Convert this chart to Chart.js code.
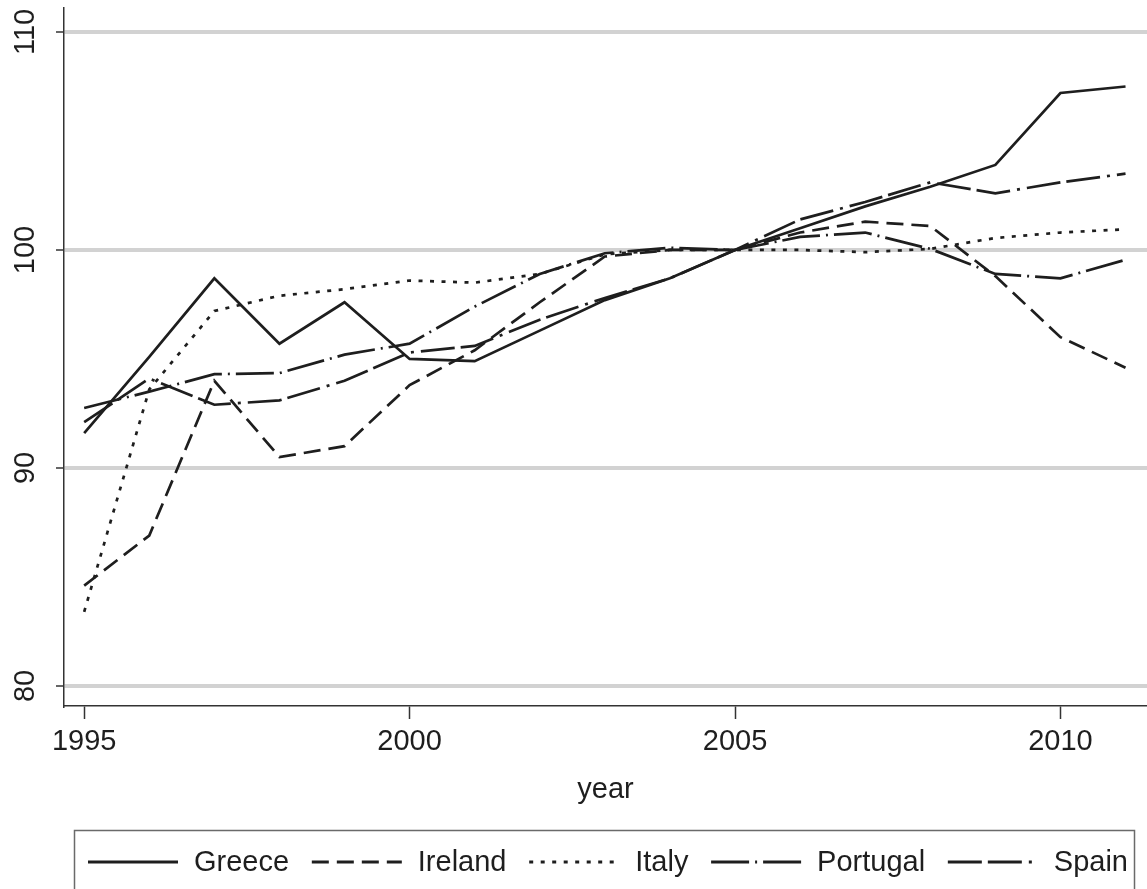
<!DOCTYPE html>
<html>
<head>
<meta charset="utf-8">
<script src="https://cdn.jsdelivr.net/npm/chart.js@4.4.1/dist/chart.umd.min.js"></script>
<style>
  html, body { margin: 0; padding: 0; background: #fff; }
  #chart { display: block; }
</style>
</head>
<body>
<canvas id="chart" width="1147" height="889"></canvas>
<script>
// index values, 2005 = 100
const years = [1995, 1996, 1997, 1998, 1999, 2000, 2001, 2002, 2003, 2004, 2005, 2006, 2007, 2008, 2009, 2010, 2011];
const greece = [91.6, 95.1, 98.7, 95.7, 97.6, 95.0, 94.9, 96.3, 97.7, 98.7, 100, 101.0, 102.0, 102.9, 103.9, 107.2, 107.5];
const ireland = [84.6, 86.9, 94.0, 90.5, 91.0, 93.8, 95.4, 97.6, 99.7, 100.0, 100, 100.8, 101.3, 101.1, 98.8, 96.0, 94.6];
const italy = [83.4, 93.6, 97.2, 97.9, 98.2, 98.6, 98.5, 98.9, 99.8, 100.0, 100, 100.0, 99.9, 100.05, 100.55, 100.8, 100.95];
const portugal = [92.75, 93.5, 94.3, 94.35, 95.2, 95.7, 97.4, 98.9, 99.85, 100.1, 100, 100.6, 100.8, 100.05, 98.9, 98.7, 99.55];
const spain = [92.1, 94.1, 92.9, 93.1, 94.0, 95.3, 95.6, 96.8, 97.8, 98.7, 100, 101.4, 102.2, 103.1, 102.6, 103.1, 103.5];

const countries = ["Greece", "Ireland", "Italy", "Portugal", "Spain"];
const xTicks = [1995, 2000, 2005, 2010];
const yTicks = [80, 90, 100, 110];

const ink = "#1e1e1e";
const fontFamily = '"Liberation Sans", Arial, Helvetica, sans-serif';
const tickFont = { family: fontFamily, size: 29 };

const series = [greece, ireland, italy, portugal, spain];
const dashes = [[], [17, 8], [4, 7.5], [38, 6, 2, 6], [34, 6, 34, 7, 3, 7]];

const datasets = countries.map((name, i) => ({
  label: name,
  data: years.map((yr, j) => ({ x: yr, y: series[i][j] })),
  borderColor: ink,
  borderWidth: 2.7,
  borderDash: dashes[i],
  borderCapStyle: "butt",
  pointRadius: 0,
  tension: 0,
  fill: false
}));

// boxed legend row under the axis title
const boxLegend = {
  id: "boxLegend",
  afterDraw(chart) {
    const ctx = chart.ctx;
    const left = 88, right = 1128, y = 862, sample = 90, gap = 16;
    ctx.save();
    ctx.strokeStyle = "#6a6a6a";
    ctx.lineWidth = 1.5;
    ctx.setLineDash([]);
    ctx.strokeRect(74.5, 830.5, 1060, 90);

    ctx.font = "29px " + fontFamily;
    ctx.textBaseline = "middle";
    ctx.fillStyle = ink;
    const sets = chart.data.datasets;
    let used = 0;
    sets.forEach(ds => { used += sample + gap + ctx.measureText(ds.label).width; });
    const spread = (right - left - used) / (sets.length - 1);

    let x = left;
    sets.forEach(ds => {
      ctx.setLineDash(ds.borderDash);
      ctx.lineWidth = 3;
      ctx.strokeStyle = ds.borderColor;
      ctx.beginPath();
      ctx.moveTo(x, y);
      ctx.lineTo(x + sample, y);
      ctx.stroke();
      x += sample + gap;
      ctx.fillText(ds.label, x, y + 1);
      x += ctx.measureText(ds.label).width + spread;
    });
    ctx.restore();
  }
};

new Chart(document.getElementById("chart"), {
  type: "line",
  data: { datasets },
  options: {
    responsive: false,
    animation: false,
    devicePixelRatio: 1,
    layout: { padding: { top: 8, right: 0, bottom: 82, left: 0 } },
    plugins: {
      legend: { display: false },
      tooltip: { enabled: false }
    },
    scales: {
      x: {
        type: "linear",
        min: 1994.69,
        max: 2011.33,
        afterBuildTicks: s => { s.ticks = xTicks.map(v => ({ value: v })); },
        afterFit: s => { s.height = 101; s.paddingLeft = 0; s.paddingRight = 0; },
        grid: { drawOnChartArea: false, tickColor: "#333", tickWidth: 1.5, tickLength: 13 },
        border: { color: "#333", width: 1.5 },
        ticks: { font: tickFont, color: ink, padding: 6, maxRotation: 0, callback: v => String(v) },
        title: { display: true, text: "year", font: tickFont, color: ink, padding: 0 }
      },
      y: {
        min: 79.08,
        max: 111.1,
        afterBuildTicks: s => { s.ticks = yTicks.map(v => ({ value: v })); },
        afterFit: s => { s.width = 64; s.paddingTop = 0; s.paddingBottom = 0; },
        grid: { color: "#d2d2d2", lineWidth: 4, tickColor: "#333", tickWidth: 1.5, tickLength: 8 },
        border: { color: "#333", width: 1.5 },
        ticks: { font: tickFont, color: ink, padding: 6, minRotation: 90, maxRotation: 90, crossAlign: "center" }
      }
    }
  },
  plugins: [boxLegend]
});
</script>
</body>
</html>
